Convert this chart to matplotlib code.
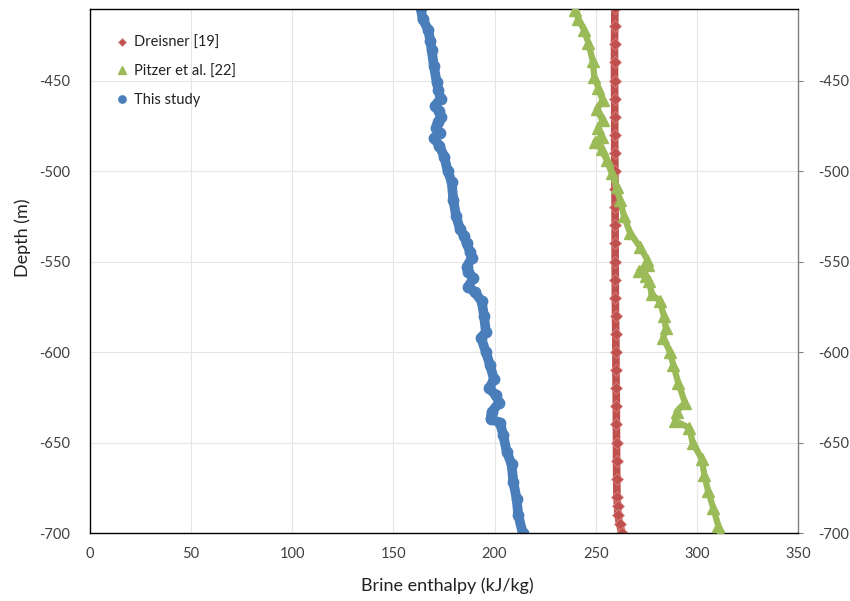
import matplotlib
matplotlib.use("Agg")
import matplotlib.pyplot as plt

plt.rcParams['font.family'] = ['Lato', 'DejaVu Sans']
plt.rcParams['axes.unicode_minus'] = False

# This study
blue_depth = [-410, -416, -422, -428, -433, -442, -451, -455, -460, -464, -467, -470,
              -473, -476, -479, -482, -486, -492, -500, -506, -516, -525, -532, -536,
              -540, -545, -548, -553, -556, -559, -564, -567, -572, -580, -589, -592,
              -600, -607, -615, -620, -624, -628, -633, -637, -639, -646, -655, -662,
              -672, -681, -690, -700]
blue_h = [163.5, 164.4, 167.2, 168.2, 168.9, 170.0, 171.4, 172.2, 173.3, 170.5, 172.5, 173.3,
          172.0, 171.0, 173.0, 170.2, 172.7, 175.1, 176.8, 178.8, 179.6, 181.0, 182.9, 185.0,
          186.2, 188.0, 188.7, 186.2, 187.0, 189.5, 187.0, 190.3, 193.6, 194.8, 195.7, 193.3,
          195.7, 197.7, 199.7, 197.4, 200.7, 202.3, 198.6, 198.0, 202.7, 204.3, 206.0, 208.4,
          209.3, 210.9, 211.7, 213.9]

# Pitzer et al. [22]
green_depth = [-411, -416, -422, -429, -439, -448, -454, -461, -466, -472, -476, -481,
               -484, -488, -494, -501, -509, -516, -525, -534, -542, -549, -552, -555,
               -558, -561, -568, -572, -580, -587, -592, -600, -607, -617, -628, -633,
               -638, -642, -650, -659, -668, -677, -686, -696, -700]
green_h = [240.0, 241.4, 244.2, 246.3, 248.5, 249.3, 251.3, 253.4, 250.5, 253.4, 251.3, 252.9,
           249.6, 252.9, 255.4, 257.9, 260.3, 262.0, 264.0, 266.9, 271.9, 275.5, 275.8, 271.5,
           275.0, 276.5, 277.6, 281.8, 283.7, 284.7, 283.4, 286.7, 288.3, 290.8, 294.1, 290.0,
           289.2, 296.3, 297.9, 302.4, 303.7, 305.6, 308.1, 310.6, 311.5]

# Dreisner [19]
red_depth = [-410, -420, -430, -440, -450, -460, -470, -480, -490, -500, -510, -520,
             -530, -540, -550, -560, -570, -580, -590, -600, -610, -620, -630, -640,
             -650, -660, -670, -680, -685, -690, -695, -700]
red_h = [259.5, 259.4, 259.3, 259.3, 259.3, 259.4, 259.4, 259.4, 259.4, 259.5, 259.5, 259.6,
         259.6, 259.6, 259.6, 259.7, 259.7, 259.8, 259.9, 260.0, 260.0, 260.1, 260.2, 260.2,
         260.3, 260.3, 260.4, 260.5, 260.8, 261.0, 261.8, 263.0]

x_ticks = [0, 50, 100, 150, 200, 250, 300, 350]
y_ticks = [-700, -650, -600, -550, -500, -450]

BLUE = "#4a7ebb"
RED = "#c0504d"
GREEN = "#9bbb59"

fig = plt.figure(figsize=(8.5, 6.01), dpi=100)
ax = fig.add_axes([0.1059, 0.1131, 0.8329, 0.8719])

# the original series are very dense, so join the points into bands
ax.plot(blue_h, blue_depth, color=BLUE, lw=7, solid_capstyle='round', solid_joinstyle='round', zorder=2)
ax.plot(red_h, red_depth, color=RED, lw=5.5, zorder=2)
ax.plot(green_h, green_depth, color=GREEN, lw=4.5, solid_joinstyle='round', zorder=3)

ax.plot(red_h, red_depth, ls='none', marker='D', ms=6, color=RED, mec='#d98a88', mew=0.5,
        label='Dreisner [19]', zorder=2.5)
ax.plot(green_h, green_depth, ls='none', marker='^', ms=8, color=GREEN, mec=GREEN,
        label='Pitzer et al. [22]', zorder=3.5)
ax.plot(blue_h, blue_depth, ls='none', marker='o', ms=7.5, color=BLUE, mec=BLUE,
        label='This study', zorder=2.5)

ax.set_xlim(0, 350)
ax.set_ylim(-700, -410.5)
ax.set_xticks(x_ticks)
ax.set_yticks(y_ticks)
ax.grid(True, color='#e6e6e6', lw=0.8, zorder=0)
ax.set_axisbelow(True)

for s in ['left', 'top', 'bottom']:
    ax.spines[s].set_color('black')
    ax.spines[s].set_linewidth(1)
ax.spines['right'].set_color('#7f7f7f')
ax.spines['right'].set_linewidth(1)

ax.tick_params(axis='y', left=False, right=True, labelleft=True, labelright=True,
               direction='out', length=3.6, width=0.8, color='#7f7f7f', pad=10.8,
               labelsize=10.5, labelcolor='#404040')
ax.tick_params(axis='x', length=0, pad=10, labelsize=10.5, labelcolor='#404040')

ax.set_xlabel('Brine enthalpy (kJ/kg)', fontsize=13, color='#222222')
ax.set_ylabel('Depth (m)', fontsize=13, color='#222222')
ax.xaxis.set_label_coords(0.505, -0.084)
ax.yaxis.set_label_coords(-0.083, 0.563)

leg = ax.legend(loc='upper left', bbox_to_anchor=(0.021, 0.974), frameon=False, fontsize=10.5,
                markerscale=0.7, handlelength=0.6, handletextpad=0.5, labelspacing=1.0)
for t in leg.get_texts():
    t.set_color('#222222')

fig.savefig('out.png', dpi=100)
